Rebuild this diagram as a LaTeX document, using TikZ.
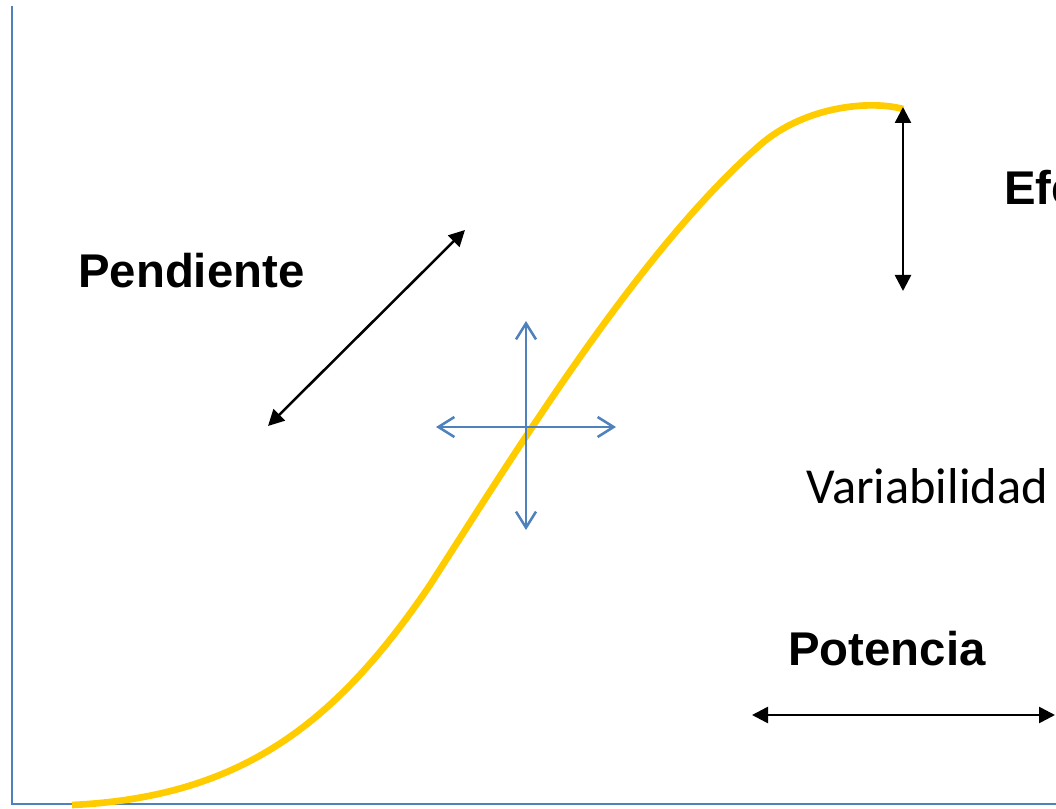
\documentclass[tikz,border=0pt]{standalone}
\usepackage{fontspec}
\setmainfont{Liberation Sans}
\newfontfamily\calibri{Carlito}
\usetikzlibrary{arrows.meta}

\definecolor{axisblue}{HTML}{4F81BD}
\definecolor{curveyellow}{HTML}{FFCC00}

\begin{document}
\begin{tikzpicture}[
  x=0.75pt, y=-0.75pt,
  every node/.style = {inner sep=0pt},
  lbl/.style    = {font=\fontsize{35.5}{40}\selectfont\bfseries, anchor=base west},
  varlbl/.style = {font=\calibri\fontsize{37.8}{42}\selectfont, anchor=base west},
  axis/.style   = {draw=axisblue, line width=1.5pt},
  curva/.style  = {draw=curveyellow, line width=5pt, line cap=butt},
  dbl/.style    = {{Triangle[length=12pt,width=12pt]}-{Triangle[length=12pt,width=12pt]},
                   line width=1.9pt},
  cruz/.style   = {-{Straight Barb[length=12pt,width=15pt]}, draw=axisblue,
                   line width=1.9pt},
]
\useasboundingbox (0,0) rectangle (1056,809);
\clip (0,0) rectangle (1056,809);

% Axes
\coordinate (o)  at (12,804);
\coordinate (yt) at (12,6);
\coordinate (xr) at (1056,804);
\draw[axis] (yt) -- (o) -- (xr);

% Sigmoid curve
\coordinate (s0) at (72,805);
\coordinate (s1) at (430,585);
\coordinate (s2) at (760,145);
\coordinate (s3) at (903,109);
\draw[curva] (s0) .. controls (240,797) and (335,725) .. (s1)
                  .. controls (520,445) and (640,250) .. (s2)
                  .. controls (805,106) and (870,100) .. (s3);

% Labels
\node[lbl]    (pend) at (78,287)  {Pendiente};
\node[lbl]    (efec) at (1004,205){Efecto};
\node[varlbl] (vari) at (806,503) {Variabilidad};
\node[lbl]    (pote) at (788,665) {Potencia};

% Double arrows
\coordinate (p1) at (268,426);
\coordinate (p2) at (465,230);
\coordinate (e1) at (903,107);
\coordinate (e2) at (903,291);
\coordinate (t1) at (752,715);
\coordinate (t2) at (1055,715);
\draw[dbl] (p1) -- (p2);
\draw[dbl] (e1) -- (e2);
\draw[dbl] (t1) -- (t2);

% Blue cross
\coordinate (c)  at (526,427);
\coordinate (cu) at (526,321);
\coordinate (cd) at (526,530);
\coordinate (cl) at (436,427);
\coordinate (cr) at (616,427);
\draw[cruz] (c) -- (cu);
\draw[cruz] (c) -- (cd);
\draw[cruz] (c) -- (cl);
\draw[cruz] (c) -- (cr);

\end{tikzpicture}
\end{document}
